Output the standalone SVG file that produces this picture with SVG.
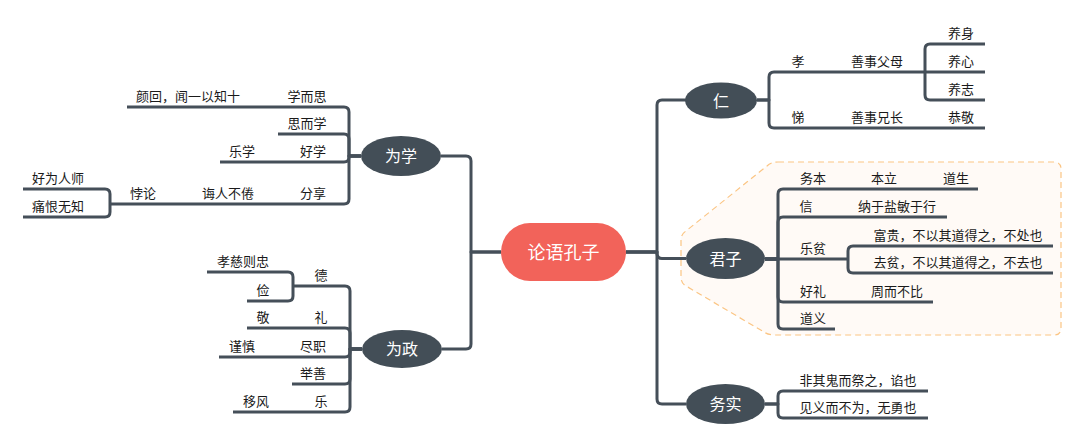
<svg xmlns="http://www.w3.org/2000/svg" width="1081" height="445" viewBox="0 0 1081 445">
<style>
.c{fill:none;stroke:#454f59;stroke-width:3;stroke-linecap:butt;stroke-linejoin:round}
.t{font-family:"Noto Sans CJK SC","Noto Sans",sans-serif;font-size:13px;fill:#1a1a1a;text-anchor:middle}
.n{fill:#434e57}
.nt{font-family:"Noto Sans CJK SC","Noto Sans",sans-serif;font-size:16px;fill:#ffffff;text-anchor:middle}
</style>
<rect width="1081" height="445" fill="#ffffff"/>
<g id="boundary">
<path d="M778,162 H1054 Q1061,162 1061,169 V328 Q1061,335 1054,335 H775 Q768,335 764,332 L686,286 Q681,283 681,277 V240 Q681,234 686,231 L767,166 Q771,162 778,162 Z" fill="#fffaf6" stroke="#fbc584" stroke-width="1.2" stroke-dasharray="6,4"/>
</g>
<g id="connectors">
<path class="c" d="M626,252 H657 V105 Q657,100 662,100 H686"/>
<path class="c" d="M626,252 H657 V253 Q657,258.5 662,258.5 H686"/>
<path class="c" d="M626,252 H657 V399 Q657,404 662,404 H686"/>
<path class="c" d="M501,252 H471 V161 Q471,156 466,156 H441"/>
<path class="c" d="M501,252 H471 V344 Q471,349 466,349 H442"/>
<path class="c" d="M757,100 H769 V77 Q769,72 774,72 H985"/>
<path class="c" d="M757,100 H769 V123 Q769,128 774,128 H985"/>
<path class="c" d="M925,72 V49 Q925,44 930,44 H985"/>
<path class="c" d="M925,72 V95 Q925,100 930,100 H985"/>
<path class="c" d="M765,259 H778 V194 Q778,189 783,189 H978"/>
<path class="c" d="M765,259 H778 V222 Q778,217 783,217 H947"/>
<path class="c" d="M765,259 H848"/>
<path class="c" d="M848,259 V251 Q848,246 853,246 H1053"/>
<path class="c" d="M848,259 V268 Q848,273 853,273 H1053"/>
<path class="c" d="M765,259 H778 V297 Q778,302 783,302 H933"/>
<path class="c" d="M765,259 H778 V324 Q778,329 783,329 H835"/>
<path class="c" d="M765,404 H778 V396 Q778,391 783,391 H928"/>
<path class="c" d="M765,404 H778 V413 Q778,418 783,418 H928"/>
<path class="c" d="M361,156 H349 V112 Q349,107 344,107 H127"/>
<path class="c" d="M361,156 H349 V139 Q349,134 344,134 H278"/>
<path class="c" d="M361,156 H349 V157 Q349,162 344,162 H220"/>
<path class="c" d="M361,156 H349 V199 Q349,204 344,204 H110"/>
<path class="c" d="M110,204 V194 Q110,189 105,189 H23"/>
<path class="c" d="M110,204 V212 Q110,217 105,217 H23"/>
<path class="c" d="M362,349 H350 V291 Q350,286 345,286 H293"/>
<path class="c" d="M293,286 V277 Q293,272 288,272 H207"/>
<path class="c" d="M293,286 V296 Q293,301 288,301 H247"/>
<path class="c" d="M362,349 H350 V333 Q350,328 345,328 H247"/>
<path class="c" d="M362,349 H350 V352 Q350,357 345,357 H219"/>
<path class="c" d="M362,349 H350 V379 Q350,384 345,384 H292"/>
<path class="c" d="M362,349 H350 V407 Q350,412 345,412 H233"/>
</g>
<g id="root">
<rect x="501" y="223" width="125" height="58" rx="29" fill="#f2635a"/>
<text x="563.5" y="259" font-family="Noto Sans CJK SC,Noto Sans,sans-serif" font-size="18" fill="#ffffff" text-anchor="middle">论语孔子</text>
</g>
<g id="ren">
<ellipse class="n" cx="721" cy="100.5" rx="36" ry="18"/>
<text class="nt" x="721" y="106.5">仁</text>
<text class="t" x="798" y="66">孝</text>
<text class="t" x="877" y="66">善事父母</text>
<text class="t" x="961" y="38">养身</text>
<text class="t" x="961" y="66">养心</text>
<text class="t" x="961" y="94">养志</text>
<text class="t" x="798" y="122">悌</text>
<text class="t" x="877" y="122">善事兄长</text>
<text class="t" x="961" y="122">恭敬</text>
</g>
<g id="junzi">
<ellipse class="n" cx="725.5" cy="258.5" rx="39.5" ry="20.5"/>
<text class="nt" x="725.5" y="264.5">君子</text>
<text class="t" x="813" y="183">务本</text>
<text class="t" x="884" y="183">本立</text>
<text class="t" x="956" y="183">道生</text>
<text class="t" x="806" y="211">信</text>
<text class="t" x="897" y="211">纳于盐敏于行</text>
<text class="t" x="813" y="253">乐贫</text>
<text class="t" x="958" y="240">富贵，不以其道得之，不处也</text>
<text class="t" x="958" y="267">去贫，不以其道得之，不去也</text>
<text class="t" x="813" y="296">好礼</text>
<text class="t" x="897" y="296">周而不比</text>
<text class="t" x="813" y="323">道义</text>
</g>
<g id="wushi">
<ellipse class="n" cx="725.5" cy="404" rx="39.5" ry="20"/>
<text class="nt" x="725.5" y="410">务实</text>
<text class="t" x="858" y="385">非其鬼而祭之，谄也</text>
<text class="t" x="858" y="412">见义而不为，无勇也</text>
</g>
<g id="weixue">
<ellipse class="n" cx="401" cy="156" rx="40" ry="20"/>
<text class="nt" x="401" y="162">为学</text>
<text class="t" x="307" y="101">学而思</text>
<text class="t" x="188" y="101">颜回，闻一以知十</text>
<text class="t" x="307" y="128">思而学</text>
<text class="t" x="313" y="156">好学</text>
<text class="t" x="242" y="156">乐学</text>
<text class="t" x="313" y="198">分享</text>
<text class="t" x="228" y="198">诲人不倦</text>
<text class="t" x="143" y="198">悖论</text>
<text class="t" x="58" y="183">好为人师</text>
<text class="t" x="58" y="211">痛恨无知</text>
</g>
<g id="weizheng">
<ellipse class="n" cx="402" cy="349" rx="40" ry="19"/>
<text class="nt" x="402" y="355">为政</text>
<text class="t" x="321" y="280">德</text>
<text class="t" x="243" y="266">孝慈则忠</text>
<text class="t" x="263" y="295">俭</text>
<text class="t" x="321" y="322">礼</text>
<text class="t" x="263" y="322">敬</text>
<text class="t" x="313" y="351">尽职</text>
<text class="t" x="242" y="351">谨慎</text>
<text class="t" x="313" y="378">举善</text>
<text class="t" x="321" y="406">乐</text>
<text class="t" x="256" y="406">移风</text>
</g>
</svg>
